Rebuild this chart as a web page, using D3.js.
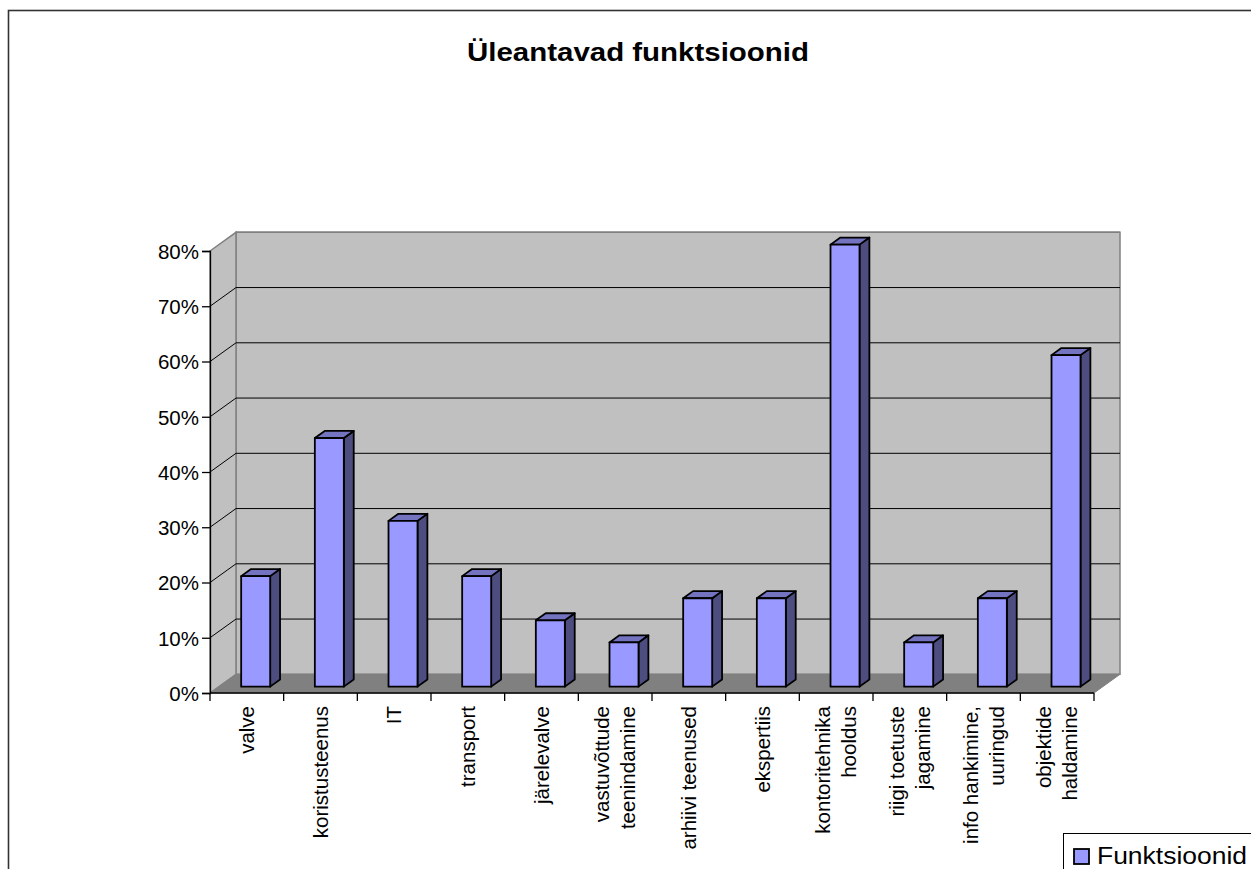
<!DOCTYPE html>
<html>
<head>
<meta charset="utf-8">
<script src="https://cdn.jsdelivr.net/npm/d3@7"></script>
<style>
  html, body { margin: 0; padding: 0; background: #ffffff; }
  svg { display: block; font-family: Arial, "Liberation Sans", sans-serif; }
</style>
</head>
<body>
<svg id="chart" width="1251" height="869"></svg>
<script>
// Category names (multi-line labels split by "\n")
const categories = [
  "valve",
  "koristusteenus",
  "IT",
  "transport",
  "järelevalve",
  "vastuvõttude\nteenindamine",
  "arhiivi teenused",
  "ekspertiis",
  "kontoritehnika\nhooldus",
  "riigi toetuste\njagamine",
  "info hankimine,\nuuringud",
  "objektide\nhaldamine"
];
// Share of respondents per function
const values = [0.20, 0.45, 0.30, 0.20, 0.12, 0.08, 0.16, 0.16, 0.80, 0.08, 0.16, 0.60];
const yTicks = [0, 0.1, 0.2, 0.3, 0.4, 0.5, 0.6, 0.7, 0.8];
const seriesName = "Funktsioonid";
const chartTitle = "Üleantavad funktsioonid";

const svg = d3.select("#chart");

// Outer chart border
svg.append("rect")
  .attr("x", 8.5).attr("y", 10.5)
  .attr("width", 1300).attr("height", 900)
  .attr("fill", "#ffffff")
  .attr("stroke", "#333333")
  .attr("stroke-width", 1.6);

// Front plane scales
const x = d3.scaleBand().domain(categories).range([210, 1094]).paddingInner(0).paddingOuter(0);
const y = d3.scaleLinear().domain([0, 0.8]).range([693, 251]);

// Depth offset of the back wall
const DX = 26, DY = -18.7;
const [x0, x1] = x.range();
const yBot = y(0), yTop = y(0.8);

const walls = svg.append("g");

// Back wall
walls.append("polygon")
  .attr("points", [[x0 + DX, yTop + DY], [x1 + DX, yTop + DY], [x1 + DX, yBot + DY], [x0 + DX, yBot + DY]].join(" "))
  .attr("fill", "#c0c0c0").attr("stroke", "#808080").attr("stroke-width", 1.5);

// Left side wall
walls.append("polygon")
  .attr("points", [[x0, yTop], [x0 + DX, yTop + DY], [x0 + DX, yBot + DY], [x0, yBot]].join(" "))
  .attr("fill", "#c0c0c0").attr("stroke", "#808080").attr("stroke-width", 1.5);

// Gridlines on back and side walls
const grid = svg.append("g").attr("stroke", "#000000").attr("stroke-width", 1).attr("fill", "none");
yTicks.filter(t => t > 0 && t < 0.8).forEach(t => {
  grid.append("polyline")
    .attr("points", [[x0, y(t)], [x0 + DX, y(t) + DY], [x1 + DX, y(t) + DY]].join(" "));
});
// Top gridline follows the wall edge
grid.append("line")
  .attr("x1", x0 + DX).attr("y1", yTop + DY).attr("x2", x1 + DX).attr("y2", yTop + DY)
  .attr("stroke", "#808080").attr("stroke-width", 1.5);

// Floor
svg.append("polygon")
  .attr("points", [[x0, yBot], [x0 + DX, yBot + DY], [x1 + DX, yBot + DY], [x1, yBot]].join(" "))
  .attr("fill", "#808080").attr("stroke", "#808080").attr("stroke-width", 1);

// Bars: placed in the middle of the depth
const zFront = 0.34, zBack = 0.72;
const barW = 29;
const bars = svg.append("g")
  .attr("stroke", "#000000").attr("stroke-width", 1.8).attr("stroke-linejoin", "round");

categories.forEach((c, i) => {
  const v = values[i];
  const cx = x(c) + x.bandwidth() / 2 + DX * zFront;
  const fx0 = cx - barW / 2, fx1 = cx + barW / 2;
  const fy0 = y(v) + DY * zFront, fy1 = y(0) + DY * zFront;
  const ddx = DX * (zBack - zFront), ddy = DY * (zBack - zFront);
  // side face
  bars.append("polygon")
    .attr("points", [[fx1, fy0], [fx1 + ddx, fy0 + ddy], [fx1 + ddx, fy1 + ddy], [fx1, fy1]].join(" "))
    .attr("fill", "#4d4d80");
  // top face
  bars.append("polygon")
    .attr("points", [[fx0, fy0], [fx0 + ddx, fy0 + ddy], [fx1 + ddx, fy0 + ddy], [fx1, fy0]].join(" "))
    .attr("fill", "#7373c0");
  // front face
  bars.append("rect")
    .attr("x", fx0).attr("y", fy0)
    .attr("width", barW).attr("height", fy1 - fy0)
    .attr("fill", "#9999ff");
});

// Value axis
const yAxis = svg.append("g")
  .attr("transform", `translate(${x0},0)`)
  .call(d3.axisLeft(y).tickValues(yTicks).tickFormat(d3.format(".0%")).tickSize(8).tickPadding(3));
yAxis.select(".domain").attr("stroke", "#000").attr("stroke-width", 1.3);
yAxis.selectAll(".tick line").attr("stroke", "#000").attr("stroke-width", 1.3);
yAxis.selectAll(".tick text")
  .attr("font-size", 20.5).attr("font-family", "Arial, 'Liberation Sans', sans-serif")
  .attr("fill", "#000").attr("dy", "0.36em");

// Category axis: line, boundary ticks
const xAxisG = svg.append("g");
xAxisG.append("line")
  .attr("x1", x0).attr("x2", x1).attr("y1", yBot).attr("y2", yBot)
  .attr("stroke", "#000").attr("stroke-width", 1.3);
const bounds = categories.map(c => x(c)).concat([x1]);
xAxisG.selectAll("line.tick")
  .data(bounds)
  .join("line")
  .attr("class", "tick")
  .attr("x1", d => d).attr("x2", d => d)
  .attr("y1", yBot).attr("y2", yBot + 8)
  .attr("stroke", "#000").attr("stroke-width", 1.3);

// Rotated category labels
const lineH = 26;
const labels = xAxisG.selectAll("text.cat")
  .data(categories)
  .join("text")
  .attr("class", "cat")
  .attr("font-size", 20.5)
  .attr("fill", "#000")
  .attr("text-anchor", "end")
  .attr("transform", d => `translate(${x(d) + x.bandwidth() / 2},706) rotate(-90)`);
labels.each(function (d) {
  const lines = d.split("\n");
  const t = d3.select(this);
  lines.forEach((ln, k) => {
    const off = (k - (lines.length - 1) / 2) * lineH + 7;
    t.append("tspan").attr("x", 0).attr("y", off).text(ln);
  });
});

// Title
svg.append("text")
  .attr("x", 638).attr("y", 61)
  .attr("text-anchor", "middle")
  .attr("font-size", 25)
  .attr("font-weight", "bold")
  .attr("textLength", 342)
  .attr("lengthAdjust", "spacingAndGlyphs")
  .text(chartTitle);

// Legend
const legend = svg.append("g");
legend.append("rect")
  .attr("x", 1063.5).attr("y", 833.5).attr("width", 260).attr("height", 80)
  .attr("fill", "#ffffff").attr("stroke", "#000").attr("stroke-width", 1);
legend.append("rect")
  .attr("x", 1074).attr("y", 849).attr("width", 15).attr("height", 15)
  .attr("fill", "#9999ff").attr("stroke", "#000").attr("stroke-width", 1.8);
legend.append("text")
  .attr("x", 1097).attr("y", 863.5)
  .attr("font-size", 23)
  .attr("textLength", 150)
  .attr("lengthAdjust", "spacingAndGlyphs")
  .text(seriesName);
</script>
</body>
</html>
